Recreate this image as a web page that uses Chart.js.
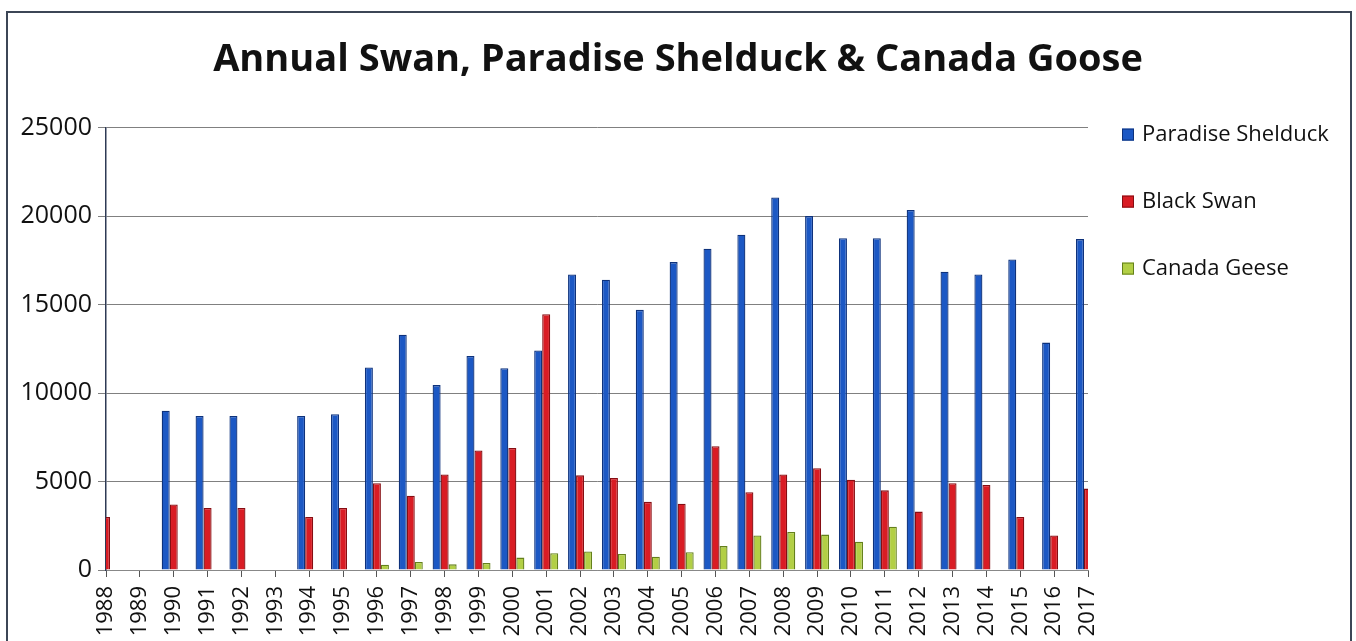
<!DOCTYPE html>
<html>
<head>
<meta charset="utf-8">
<title>Annual Swan, Paradise Shelduck & Canada Goose</title>
<script src="https://cdn.jsdelivr.net/npm/chart.js@4.4.1/dist/chart.umd.min.js"></script>
<style>
  html, body { margin: 0; padding: 0; background: #fff; overflow: hidden; }
  #frame {
    position: absolute; left: 6px; top: 11px; width: 1346px; height: 700px;
    border: 2px solid #3c4656; box-sizing: border-box;
  }
  #wrap { position: absolute; left: 0; top: 0; width: 1356px; height: 641px; }
</style>
</head>
<body>
<div id="frame"></div>
<div id="wrap"><canvas id="birdChart" width="1356" height="641"></canvas></div>
<script>
// ----------------------------
// DATA
// ----------------------------
const years = [
  "1988", "1989", "1990", "1991", "1992", "1993", "1994", "1995", "1996", "1997",
  "1998", "1999", "2000", "2001", "2002", "2003", "2004", "2005", "2006", "2007",
  "2008", "2009", "2010", "2011", "2012", "2013", "2014", "2015", "2016", "2017"
];

const paradiseShelduck = [
  null, null, 9000, 8700, 8700, null, 8700, 8800, 11450, 13300,
  10450, 12100, 11400, 12400, 16700, 16400, 14700, 17400, 18150, 18950,
  21050, 20000, 18750, 18750, 20350, 16850, 16700, 17550, 12850, 18700
];

const blackSwan = [
  3000, null, 3700, 3500, 3500, null, 3000, 3500, 4900, 4200,
  5400, 6750, 6900, 14450, 5350, 5200, 3850, 3750, 7000, 4400,
  5400, 5750, 5100, 4500, 3300, 4900, 4800, 3000, 1950, 4600
];

const canadaGeese = [
  null, null, null, null, null, null, null, null, 300, 450,
  320, 400, 700, 950, 1050, 900, 750, 1000, 1350, 1950,
  2150, 2000, 1600, 2450, null, null, null, null, null, null
];

const yTicks = [0, 5000, 10000, 15000, 20000, 25000];

const xFont = { family: "'Open Sans', sans-serif", size: 22 };
const yFont = { family: "'Open Sans', sans-serif", size: 25 };

// --- legend drawn at the right, like the Excel original ---
const sideLegend = {
  id: "sideLegend",
  afterDraw(chart) {
    const { ctx, chartArea } = chart;
    ctx.save();
    ctx.font = "22px 'Open Sans', sans-serif";
    ctx.textBaseline = "middle";
    chart.data.datasets.forEach((ds, i) => {
      const x = chartArea.right + 34;
      const y = chartArea.top + 7 + i * 67;
      ctx.fillStyle = ds.backgroundColor;
      ctx.fillRect(x, y - 6, 12, 12);
      ctx.strokeStyle = ds.borderColor;
      ctx.lineWidth = 1;
      ctx.strokeRect(x + 0.5, y - 5.5, 11, 11);
      ctx.fillStyle = "#111";
      ctx.fillText(ds.label, x + 20, y);
    });
    ctx.restore();
  }
};

new Chart(document.getElementById("birdChart"), {
  type: "bar",
  data: {
    labels: years,
    datasets: [
      { label: "Paradise Shelduck", data: paradiseShelduck, backgroundColor: "#1c58c4", borderColor: "#0e327c" },
      { label: "Black Swan", data: blackSwan, backgroundColor: "#d91c24", borderColor: "#860d12" },
      { label: "Canada Geese", data: canadaGeese, backgroundColor: "#b2cf45", borderColor: "#64801c" }
    ]
  },
  options: {
    responsive: false,
    animation: false,
    datasets: {
      bar: { categoryPercentage: 0.71, barPercentage: 1.0, borderWidth: 1.3 }
    },
    layout: { padding: 0 },
    plugins: {
      legend: { display: false },
      tooltip: { enabled: false },
      title: {
        display: true,
        text: "Annual Swan, Paradise Shelduck & Canada Goose",
        color: "#111",
        font: { family: "'Open Sans', sans-serif", size: 38, weight: "bold" },
        padding: { top: 37, bottom: 45 }
      }
    },
    scales: {
      x: {
        offset: false,
        grid: { offset: false, drawOnChartArea: false, drawTicks: true, tickLength: 7, color: "#555" },
        border: { color: "#888", width: 1 },
        ticks: { color: "#111", font: xFont, minRotation: 90, maxRotation: 90, autoSkip: false, padding: 9 },
        afterFit(scale) { scale.height = 71; }
      },
      y: {
        min: 0,
        max: 25000,
        afterBuildTicks(scale) { scale.ticks = yTicks.map(v => ({ value: v })); },
        grid: { color: "#808080", lineWidth: 1, tickLength: 8 },
        border: { color: "#2e3a55", width: 1.5 },
        ticks: { color: "#111", font: yFont, padding: 6, callback: v => String(v) },
        afterFit(scale) { scale.width = 106; }
      },
      // empty right-hand axis: keeps room for the legend so the title stays centred on the page
      legendSpace: {
        position: "right",
        grid: { display: false },
        border: { display: false },
        ticks: { display: false },
        afterFit(scale) { scale.width = 268; }
      }
    }
  },
  plugins: [sideLegend]
});
</script>
</body>
</html>
